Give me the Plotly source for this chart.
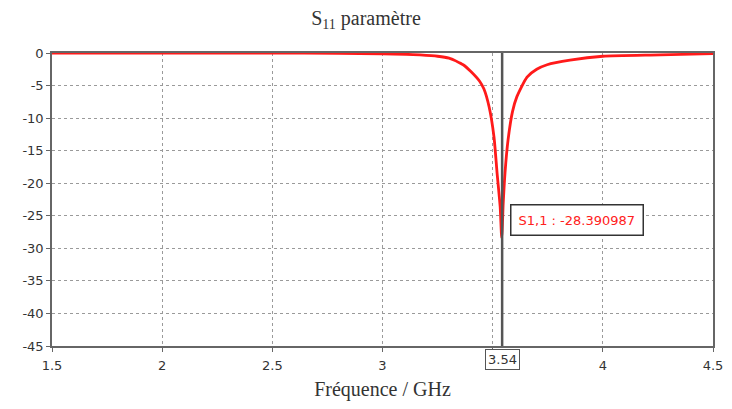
import plotly.graph_objects as go

freq_ghz = [1.5, 2.0, 2.5, 2.8, 3.0, 3.107, 3.17, 3.25, 3.302, 3.366, 3.40, 3.44, 3.46,
            3.484, 3.506, 3.52, 3.534, 3.541, 3.548, 3.556, 3.57, 3.59, 3.61, 3.656,
            3.70, 3.747, 3.851, 4.0, 4.26, 4.5]
s11_db = [0.0, 0.0, -0.02, -0.05, -0.12, -0.2, -0.3, -0.5, -0.8, -1.8, -2.8, -4.3, -5.5,
          -8.3, -12.9, -18.4, -23.6, -28.390987, -23.0, -18.4, -13.3, -9.0, -6.7, -3.7,
          -2.5, -1.8, -1.1, -0.5, -0.3, -0.1]

x_tickvals = [1.5, 2.0, 2.5, 3.0, 3.5, 4.0, 4.5]
x_ticktext = ["1.5", "2", "2.5", "3", "", "4", "4.5"]
y_tickvals = [0, -5, -10, -15, -20, -25, -30, -35, -40, -45]
y_ticktext = ["0", "-5", "-10", "-15", "-20", "-25", "-30", "-35", "-40", "-45"]

marker_freq = 3.543
marker_label = "3.54"
marker_text = "S1,1 : -28.390987"

fig = go.Figure()
fig.add_trace(go.Scatter(x=freq_ghz, y=s11_db, mode="lines",
                         line=dict(color="#ff1a1a", width=2.8, shape="spline", smoothing=0.6),
                         showlegend=False, hoverinfo="skip"))

fig.add_shape(type="line", x0=marker_freq, x1=marker_freq, y0=0, y1=1, xref="x", yref="paper",
              line=dict(color="#555555", width=2.5))

fig.add_annotation(x=marker_freq, y=0, xref="x", yref="paper", yanchor="top", yshift=-3,
                   text=marker_label, showarrow=False,
                   font=dict(family="DejaVu Sans", size=13, color="#333333"),
                   bordercolor="#555555", borderwidth=1, borderpad=2, bgcolor="white")

fig.add_annotation(x=3.577, y=-25.6, xref="x", yref="y", xanchor="left", text=marker_text,
                   showarrow=False, font=dict(family="DejaVu Sans", size=13, color="#ff2020"),
                   bordercolor="#333333", borderwidth=1.5, borderpad=7, bgcolor="white")

# page body has an 8px margin: figure is sized to fit the 732x409 window exactly
fig.update_layout(
    width=716, height=393,
    margin=dict(l=44, r=11, t=45, b=55, autoexpand=False),
    paper_bgcolor="white", plot_bgcolor="white",
    title=dict(text="S<sub>11</sub> paramètre", x=0.5, xanchor="center", y=0.975, yanchor="middle",
               font=dict(family="Liberation Serif", size=20, color="#333333")),
    xaxis=dict(range=[1.5, 4.5], tickvals=x_tickvals, ticktext=x_ticktext, automargin=False,
               showgrid=True, gridcolor="#9a9a9a", griddash="dot", gridwidth=1,
               showline=True, linecolor="#666666", linewidth=1.5, mirror=True,
               ticks="outside", ticklen=4, tickcolor="#666666", zeroline=False,
               ticklabelstandoff=3,
               tickfont=dict(family="DejaVu Sans", size=13, color="#333333"),
               title=dict(text="Fréquence / GHz", standoff=13,
                          font=dict(family="Liberation Serif", size=20, color="#333333"))),
    yaxis=dict(range=[-45, 0], tickvals=y_tickvals, ticktext=y_ticktext, automargin=False,
               showgrid=True, gridcolor="#9a9a9a", griddash="dot", gridwidth=1,
               showline=True, linecolor="#666666", linewidth=1.5, mirror=True,
               ticks="outside", ticklen=4, tickcolor="#666666", zeroline=False,
               tickfont=dict(family="DejaVu Sans", size=13, color="#333333")),
)

fig.write_html("out.html")
